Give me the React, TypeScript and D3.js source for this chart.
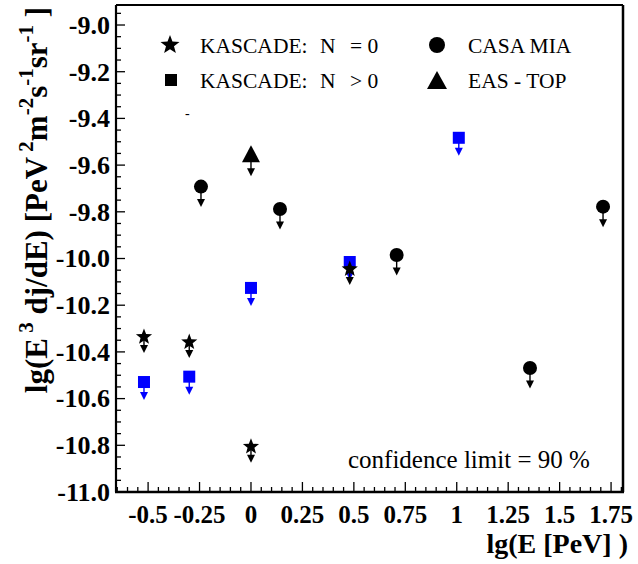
import React from "react";
import * as d3 from "d3";

// ---- data ----
const xTickValues = [-0.5, -0.25, 0, 0.25, 0.5, 0.75, 1, 1.25, 1.5, 1.75];
const xTickLabels = ["-0.5", "-0.25", "0", "0.25", "0.5", "0.75", "1", "1.25", "1.5", "1.75"];
const yTickValues = [-11.0, -10.8, -10.6, -10.4, -10.2, -10.0, -9.8, -9.6, -9.4, -9.2, -9.0];
const yTickLabels = ["-11.0", "-10.8", "-10.6", "-10.4", "-10.2", "-10.0", "-9.8", "-9.6", "-9.4", "-9.2", "-9.0"];

const kascadeN0X = [-0.52, -0.3, 0.0, 0.48];
const kascadeN0Y = [-10.336, -10.358, -10.806, -10.045];

const kascadeNgt0X = [-0.52, -0.3, 0.0, 0.48, 1.01];
const kascadeNgt0Y = [-10.529, -10.506, -10.126, -10.015, -9.483];

const casaMiaX = [-0.243, 0.141, 0.708, 1.356, 1.711];
const casaMiaY = [-9.692, -9.788, -9.985, -10.469, -9.778];

const easTopX = [0.0];
const easTopY = [-9.553];

// ---- layout ----
const W = 638;
const H = 564;
const left = 116;
const right = 623;
const top = 5;
const bottom = 492;

const x = d3.scaleLinear().domain([-0.656, 1.808]).range([left, right]);
const y = d3.scaleLinear().domain([-11, -8.9143]).range([bottom, top]);

const BLUE = "#0000ff";
const FONT = "Liberation Serif";

function starPath(cx: number, cy: number, R: number, r: number) {
  const pts: [number, number][] = [];
  for (let i = 0; i < 10; i++) {
    const rad = i % 2 === 0 ? R : r;
    const a = -Math.PI / 2 + (i * Math.PI) / 5;
    pts.push([cx + rad * Math.cos(a), cy + rad * Math.sin(a)]);
  }
  return d3.line()(pts) + "Z";
}

function Arrow({ cx, cy, len, color }: { cx: number; cy: number; len: number; color: string }) {
  const tip = cy + len;
  return (
    <g>
      <line x1={cx} y1={cy} x2={cx} y2={tip - 6} stroke={color} strokeWidth={1.4} />
      <path d={`M${cx - 4},${tip - 8}L${cx + 4},${tip - 8}L${cx},${tip}Z`} fill={color} />
    </g>
  );
}

export default function App() {
  const xMinor = d3.range(-65, 181, 5).map((v) => v / 100);
  const yMinor = d3.range(-1100, -890, 5).map((v) => v / 100);
  const isMajorX = (v: number) => Math.abs(v * 4 - Math.round(v * 4)) < 1e-6;
  const isMajorY = (v: number) => Math.abs(v * 5 - Math.round(v * 5)) < 1e-6;

  return (
    <svg width={W} height={H} style={{ position: "absolute", left: 0, top: 0, background: "#fff" }}>
      <rect x={0} y={0} width={W} height={H} fill="#fff" />

      {/* frame */}
      <line x1={left} y1={top} x2={right} y2={top} stroke="#000" strokeWidth={2} />
      <line x1={right} y1={top} x2={right} y2={bottom} stroke="#000" strokeWidth={2.5} />

      {/* x ticks */}
      {xMinor
        .filter((v) => x(v) > left + 1 && x(v) < right - 1)
        .map((v, i) => (
          <line
            key={"xm" + i}
            x1={x(v)}
            x2={x(v)}
            y1={bottom}
            y2={bottom - (isMajorX(v) ? 10 : 5)}
            stroke="#000"
            strokeWidth={1.3}
          />
        ))}
      {/* y ticks */}
      {yMinor
        .filter((v) => y(v) > top + 1 && y(v) < bottom - 1)
        .map((v, i) => (
          <line
            key={"ym" + i}
            x1={left}
            x2={left + (isMajorY(v) ? 9 : 5)}
            y1={y(v)}
            y2={y(v)}
            stroke="#000"
            strokeWidth={1.3}
          />
        ))}

      <line x1={left} y1={top} x2={left} y2={bottom} stroke="#000" strokeWidth={2.2} />
      <line x1={left - 1} y1={bottom} x2={right + 1} y2={bottom} stroke="#000" strokeWidth={2.5} />

      {/* tick labels */}
      {xTickValues.map((v, i) => (
        <text
          key={"xl" + i}
          x={x(v)}
          y={523}
          textAnchor="middle"
          fontSize={25}
          fontWeight="bold"
          fontFamily={FONT}
        >
          {xTickLabels[i]}
        </text>
      ))}
      {yTickValues.map((v, i) => (
        <text
          key={"yl" + i}
          x={110}
          y={y(v)}
          dy="0.34em"
          textAnchor="end"
          fontSize={26}
          fontWeight="bold"
          fontFamily={FONT}
        >
          {yTickLabels[i]}
        </text>
      ))}

      {/* axis titles */}
      <text x={628} y={553} textAnchor="end" fontSize={28} fontWeight="bold" fontFamily={FONT}>
        lg(E [PeV] )
      </text>
      <text
        transform="translate(47,200) rotate(-90)"
        textAnchor="middle"
        fontSize={31}
        fontWeight="bold"
        fontFamily={FONT}
      >
        <tspan>lg(E</tspan>
        <tspan fontSize={21} dy={-14}> 3</tspan>
        <tspan dy={14}> dj/dE) [PeV</tspan>
        <tspan fontSize={21} dy={-14}> 2</tspan>
        <tspan dy={14}>m</tspan>
        <tspan fontSize={21} dy={-14}>-2</tspan>
        <tspan dy={14}>s</tspan>
        <tspan fontSize={21} dy={-14}>-1</tspan>
        <tspan dy={14}>sr</tspan>
        <tspan fontSize={21} dy={-14}>-1</tspan>
        <tspan dy={14}> ]</tspan>
      </text>

      {/* KASCADE N>0 squares (blue) */}
      {kascadeNgt0X.map((v, i) => {
        const cx = x(v);
        const cy = y(kascadeNgt0Y[i]);
        return (
          <g key={"sq" + i}>
            <Arrow cx={cx} cy={cy} len={18} color={BLUE} />
            <rect x={cx - 6} y={cy - 6} width={12} height={12} fill={BLUE} />
          </g>
        );
      })}

      {/* KASCADE N=0 stars */}
      {kascadeN0X.map((v, i) => {
        const cx = x(v);
        const cy = y(kascadeN0Y[i]);
        return (
          <g key={"st" + i}>
            <Arrow cx={cx} cy={cy} len={16} color="#000" />
            <path d={starPath(cx, cy, 8.5, 3.6)} fill="#000" />
          </g>
        );
      })}

      {/* CASA MIA circles */}
      {casaMiaX.map((v, i) => {
        const cx = x(v);
        const cy = y(casaMiaY[i]);
        return (
          <g key={"ci" + i}>
            <Arrow cx={cx} cy={cy} len={20.5} color="#000" />
            <circle cx={cx} cy={cy} r={7} fill="#000" />
          </g>
        );
      })}

      {/* EAS-TOP triangle */}
      {easTopX.map((v, i) => {
        const cx = x(v);
        const cy = y(easTopY[i]);
        return (
          <g key={"tr" + i}>
            <Arrow cx={cx} cy={cy} len={22} color="#000" />
            <path d={`M${cx},${cy - 9}L${cx + 9},${cy + 8}L${cx - 9},${cy + 8}Z`} fill="#000" />
          </g>
        );
      })}

      {/* legend */}
      <path d={starPath(170, 45, 10, 4.2)} fill="#000" />
      <rect x={165} y={74} width={12} height={12} fill="#000" />
      <circle cx={437} cy={45} r={8} fill="#000" />
      <path d="M437,71L447,89L427,89Z" fill="#000" />
      <g fontSize={21.5} fontFamily={FONT}>
        <text x={200} y={53}>KASCADE:</text>
        <text x={320} y={53}>N</text>
        <text x={350} y={53}>= 0</text>
        <text x={200} y={88}>KASCADE:</text>
        <text x={320} y={88}>N</text>
        <text x={350} y={88}>&gt; 0</text>
        <text x={468} y={53}>CASA MIA</text>
        <text x={468} y={88}>EAS - TOP</text>
      </g>
      <text x={185} y={118} fontSize={14} fontFamily={FONT}>-</text>

      <text x={348} y={468} fontSize={25} fontFamily={FONT}>
        confidence limit = 90 %
      </text>
    </svg>
  );
}
